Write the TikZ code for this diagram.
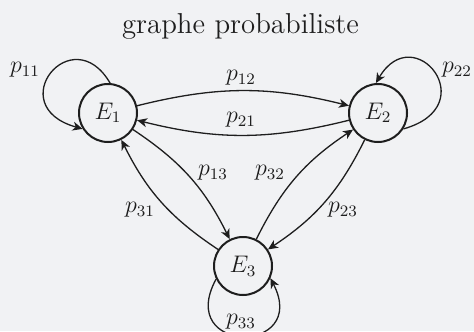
\documentclass[tikz,border=0pt]{standalone}
\usetikzlibrary{arrows.meta}
\definecolor{bg}{RGB}{241,242,244}
\definecolor{ink}{RGB}{30,30,30}
\begin{document}
\begin{tikzpicture}[x=0.5pt,y=-0.5pt,
  state/.style={circle, draw=ink, line width=1pt, minimum size=29pt, inner sep=0pt, font=\large, text=ink},
  lbl/.style={font=\large, text=ink, inner sep=0pt},
  arc/.style={draw=ink, line width=0.65pt, -{Stealth[length=5pt,width=4.5pt,inset=1.5pt]}},
  titlestyle/.style={font=\Large\fontfamily{ppl}\selectfont, text=ink, inner sep=0pt}
]
\useasboundingbox (0,0) rectangle (474,331);
\fill[bg] (0,0) rectangle (474,331);
\clip (0,0) rectangle (474,331);

\node[titlestyle] (title) at (240.5,26) {graphe probabiliste};

\node[state] (E1) at (108,113) {$E_1$};
\node[state] (E2) at (378,113) {$E_2$};
\node[state] (E3) at (243,266) {$E_3$};

\draw[arc] (E1) to[bend left=14] (E2);
\draw[arc] (E2) to[bend left=14] (E1);
\draw[arc] (E1) to[bend left=15] (E3);
\draw[arc] (E3) to[bend left=15] (E1);
\draw[arc] (E3) to[bend left=15] (E2);
\draw[arc] (E2) to[bend left=15] (E3);

\draw[arc] (E1.86) .. controls (72,18) and (1,106) .. (E1.212);
\draw[arc] (E2.328) .. controls (485,106) and (414,18) .. (E2.94);
\draw[arc] (E3.206) .. controls (175,355) and (310,355) .. (E3.336);

\node[lbl] (l11) at (25,70) {$p_{11}$};
\node[lbl] (l22) at (457,70) {$p_{22}$};
\node[lbl] (l12) at (241,78) {$p_{12}$};
\node[lbl] (l21) at (241,120) {$p_{21}$};
\node[lbl] (l13) at (213,173) {$p_{13}$};
\node[lbl] (l32) at (270,173) {$p_{32}$};
\node[lbl] (l31) at (140,210) {$p_{31}$};
\node[lbl] (l23) at (343,210) {$p_{23}$};
\node[lbl] (l33) at (241,322) {$p_{33}$};
\end{tikzpicture}
\end{document}
